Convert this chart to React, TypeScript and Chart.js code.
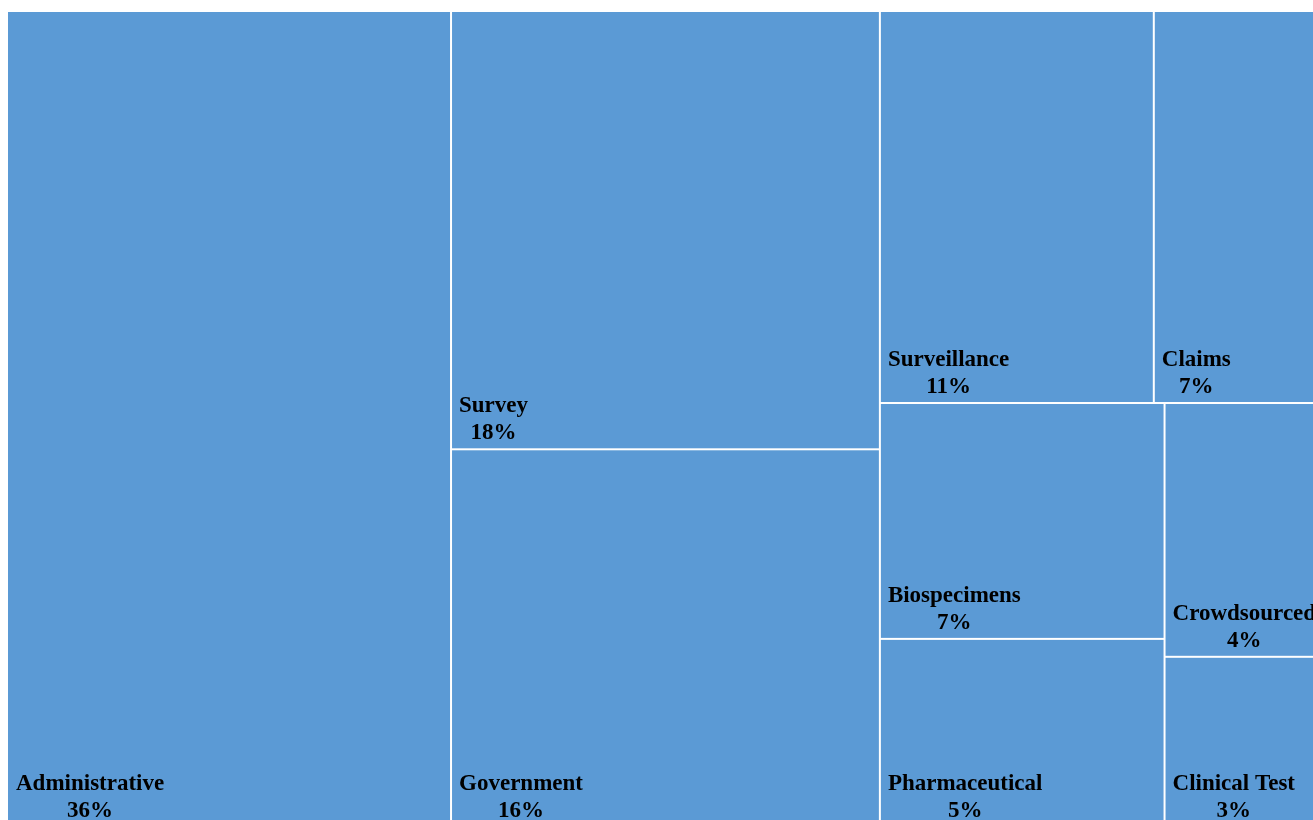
import React, { useEffect, useRef } from "react";
import { Chart, registerables } from "chart.js";

Chart.register(...registerables);

// Categories and their shares (area of each tile); labels show the rounded share.
const categories = [
  "Administrative",
  "Survey",
  "Government",
  "Surveillance",
  "Claims",
  "Biospecimens",
  "Pharmaceutical",
  "Crowdsourced",
  "Clinical Test",
];
const shares = [35.6, 18.49, 15.97, 10.56, 6.87, 6.62, 5.28, 4.19, 2.81];

// Tile nesting: "h" = children side by side, "v" = children stacked top to bottom.
type Node = number | [string, ...Node[]];
const nesting: Node = ["h", 0, ["v", 1, 2], ["v", ["h", 3, 4], ["h", ["v", 5, 6], ["v", 7, 8]]]];

const TILE_COLOR = "#5B9AD5";
const GAP_COLOR = "#FFFFFF";
const TEXT_COLOR = "#000000";
const FONT = "bold 23px 'Liberation Serif', 'Times New Roman', serif";
const CANVAS_W = 1324;
const CANVAS_H = 819;

function total(node: Node): number {
  if (typeof node === "number") return shares[node];
  return (node.slice(1) as Node[]).reduce((s, n) => s + total(n), 0);
}

type Tile = { x: number; y: number; x1: number; y1: number; idx: number };

function place(node: Node, x0: number, y0: number, x1: number, y1: number, out: Tile[]) {
  if (typeof node === "number") {
    out.push({ x: x0, y: y0, x1, y1, idx: node });
    return;
  }
  const [dir, ...kids] = node;
  const t = total(node);
  let acc = 0;
  for (const k of kids as Node[]) {
    const f0 = acc / t;
    acc += total(k);
    const f1 = acc / t;
    if (dir === "h") place(k, x0 + (x1 - x0) * f0, y0, x0 + (x1 - x0) * f1, y1, out);
    else place(k, x0, y0 + (y1 - y0) * f0, x1, y0 + (y1 - y0) * f1, out);
  }
}

const treemapPlugin = {
  id: "treemapTiles",
  afterDatasetsDraw(chart: any) {
    const { ctx, scales } = chart;
    const xs = scales.x;
    const ys = scales.y;
    const tiles: Tile[] = chart.data.datasets[0].data;
    ctx.save();
    for (const r of tiles) {
      const px0 = xs.getPixelForValue(r.x);
      const px1 = xs.getPixelForValue(r.x1);
      const py0 = ys.getPixelForValue(r.y);
      const py1 = ys.getPixelForValue(r.y1);
      ctx.fillStyle = GAP_COLOR;
      ctx.fillRect(px0, py0, px1 - px0, py1 - py0);
      const l = px0 + (r.x > 1e-9 ? 1 : 0);
      const rr = px1 - (r.x1 < 1 - 1e-9 ? 1 : 0);
      const t = py0 + (r.y > 1e-9 ? 1 : 0);
      const b = py1 - (r.y1 < 1 - 1e-9 ? 1 : 0);
      ctx.fillStyle = TILE_COLOR;
      ctx.fillRect(l, t, rr - l, b - t);
    }
    ctx.font = FONT;
    ctx.fillStyle = TEXT_COLOR;
    ctx.textBaseline = "alphabetic";
    for (const r of tiles) {
      const px0 = xs.getPixelForValue(r.x);
      const py1 = ys.getPixelForValue(r.y1);
      const name = categories[r.idx];
      const pct = Math.round(shares[r.idx]) + "%";
      const tx = px0 + 8;
      const b2 = py1 - 10;
      const b1 = b2 - 27;
      ctx.textAlign = "left";
      ctx.fillText(name, tx, b1);
      const w = ctx.measureText(name).width;
      ctx.textAlign = "center";
      ctx.fillText(pct, tx + w / 2, b2);
    }
    ctx.restore();
  },
};

export default function App() {
  const ref = useRef<HTMLCanvasElement | null>(null);

  useEffect(() => {
    const tiles: Tile[] = [];
    place(nesting, 0, 0, 1, 1, tiles);
    const chart = new Chart(ref.current as HTMLCanvasElement, {
      type: "scatter",
      data: {
        datasets: [
          {
            label: "Data sources",
            data: tiles as any,
            pointRadius: 0,
            pointHoverRadius: 0,
            showLine: false,
          },
        ],
      },
      options: {
        animation: false,
        responsive: false,
        devicePixelRatio: 1,
        layout: { padding: { top: 4, left: 0, right: 0, bottom: 0 } },
        plugins: { legend: { display: false }, tooltip: { enabled: false } },
        scales: {
          x: { type: "linear", min: 0, max: 1, display: false },
          y: { type: "linear", min: 0, max: 1, reverse: true, display: false },
        },
      },
      plugins: [treemapPlugin],
    });
    return () => chart.destroy();
  }, []);

  return (
    <div style={{ position: "fixed", left: 8, top: 8, width: CANVAS_W, height: CANVAS_H }}>
      <canvas
        ref={ref}
        width={CANVAS_W}
        height={CANVAS_H}
        style={{ display: "block", width: CANVAS_W, height: CANVAS_H, maxWidth: "none" }}
      />
    </div>
  );
}
